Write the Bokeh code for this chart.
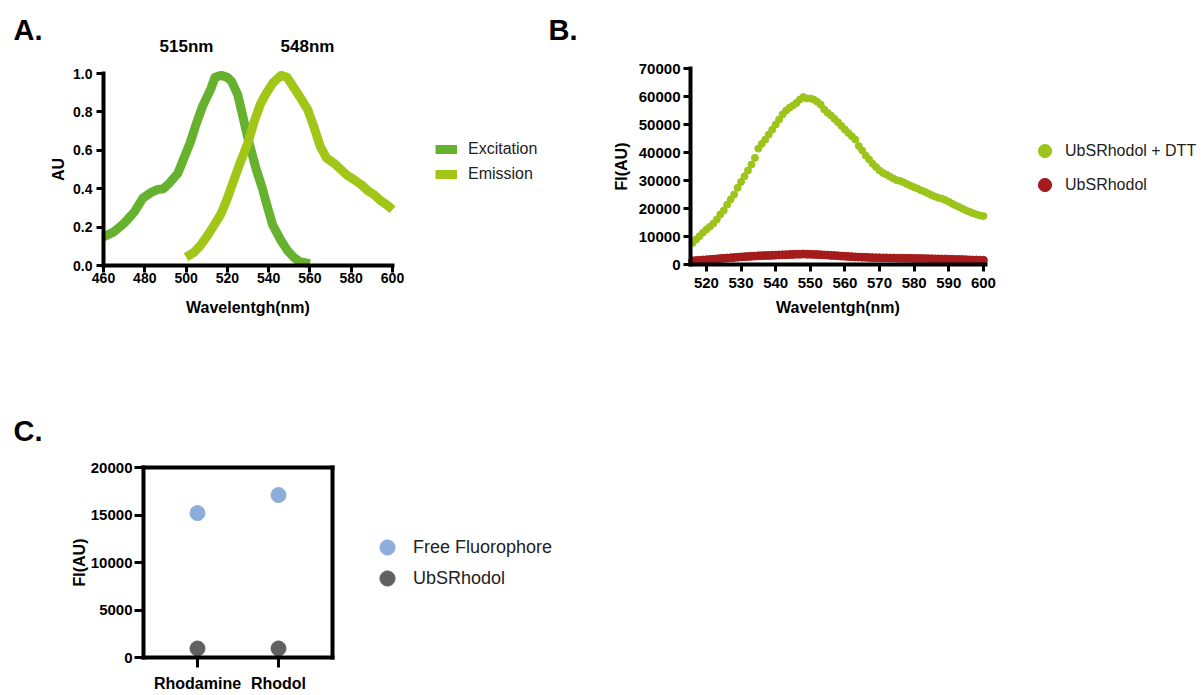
from bokeh.plotting import figure
from bokeh.layouts import column, row
from bokeh.models import Legend, LegendItem, Label, FixedTicker, Range1d, PrintfTickFormatter, LinearAxis
from bokeh.embed import file_html
from bokeh.resources import INLINE

FONT = "Liberation Sans"

# ---------------- Panel A data ----------------
exc_wl = [460, 465, 470, 475, 479, 483, 486, 489, 492, 496, 499, 502, 505, 508, 512, 514,
          517, 520, 522, 525, 527, 530, 532, 534, 537, 539, 542, 546, 549, 552, 555, 560]
exc_au = [0.149, 0.175, 0.22, 0.28, 0.35, 0.38, 0.395, 0.40, 0.43, 0.48, 0.56, 0.64, 0.74, 0.83, 0.92, 0.98,
          0.99, 0.98, 0.96, 0.89, 0.80, 0.66, 0.58, 0.50, 0.40, 0.32, 0.21, 0.13, 0.08, 0.044, 0.02, 0.01]
em_wl = [500, 504, 507, 510, 513, 517, 520, 523, 526, 530, 533, 536, 539, 542, 546, 549,
         552, 555, 559, 562, 565, 568, 572, 575, 578, 581, 585, 588, 591, 594, 598, 600]
em_au = [0.044, 0.07, 0.105, 0.15, 0.20, 0.27, 0.35, 0.44, 0.53, 0.64, 0.75, 0.84, 0.90, 0.95, 0.99, 0.98,
         0.93, 0.88, 0.81, 0.72, 0.62, 0.56, 0.53, 0.50, 0.47, 0.45, 0.42, 0.39, 0.37, 0.34, 0.31, 0.29]
a_xticks = [460, 480, 500, 520, 540, 560, 580, 600]
a_yticks = [0.0, 0.2, 0.4, 0.6, 0.8, 1.0]
a_peaks = ["515nm", "548nm"]

# ---------------- Panel B data ----------------
b_wl = list(range(516, 601))
b_dtt = [7700, 8900, 10100, 11400, 12500, 13500, 14600, 16100, 17900, 19300,
         21400, 23200, 25000, 27400, 29500, 31500, 33600, 35700, 38100, 41400,
         43100, 44600, 46400, 48200, 50000, 51800, 53600, 55000, 56000, 56800,
         57700, 58900, 59800, 59300, 59300, 58900, 58100, 57100, 55400, 54200,
         53200, 52000, 50800, 49500, 48200, 47000, 45800, 44600, 42300, 40700,
         38900, 37500, 36000, 34800, 33600, 32700, 32100, 31400, 30700, 30100,
         29800, 29300, 28700, 28100, 27600, 27100, 26500, 26000, 25400, 24800,
         24300, 23800, 23500, 23000, 22400, 21700, 21100, 20500, 19900, 19300,
         18800, 18300, 17900, 17500, 17300]
b_probe = [1300, 1400, 1500, 1600, 1700, 1800, 1900, 2000, 2100, 2200,
           2300, 2400, 2500, 2600, 2700, 2800, 2850, 2950, 3000, 3100,
           3150, 3200, 3250, 3300, 3350, 3400, 3450, 3500, 3550, 3600,
           3650, 3700, 3750, 3700, 3650, 3600, 3550, 3500, 3400, 3350,
           3250, 3200, 3100, 3000, 2950, 2850, 2800, 2700, 2650, 2600,
           2550, 2500, 2450, 2400, 2400, 2350, 2350, 2300, 2300, 2250,
           2250, 2200, 2200, 2200, 2150, 2150, 2100, 2100, 2050, 2050,
           2000, 2000, 1950, 1950, 1900, 1850, 1800, 1800, 1750, 1700,
           1650, 1600, 1600, 1550, 1500]
b_xticks = [520, 530, 540, 550, 560, 570, 580, 590, 600]
b_yticks = [0, 10000, 20000, 30000, 40000, 50000, 60000, 70000]

# ---------------- Panel C data ----------------
c_cats = ["Rhodamine", "Rhodol"]
c_free = [15200, 17100]
c_probe = [950, 950]
c_yticks = [0, 5000, 10000, 15000, 20000]

# colours
C_EXC = "#66b22f"
C_EM = "#a2c617"
C_DTT = "#9cc41b"
C_RED = "#a51c1c"
C_BLUE = "#8dadda"
C_GREY = "#616161"


class Geo:
    """Maps page pixels to data coordinates for a figure whose frame fills its canvas."""
    def __init__(self, cx, cy, cw, ch, l, r, t, b, x0, x1, y0, y1):
        self.cx, self.cy, self.cw, self.ch = cx, cy, cw, ch
        kx = (r - l) / (x1 - x0)
        ky = (b - t) / (y1 - y0)
        self.xs = x0 - (l - cx) / kx
        self.xe = x1 + (cx + cw - r) / kx
        self.ys = y0 - (cy + ch - b) / ky
        self.ye = y1 + (t - cy) / ky
        self.kx, self.ky = kx, ky

    def data(self, px, py):
        return (self.xs + (px - self.cx) / self.kx, self.ys + (self.cy + self.ch - py) / self.ky)

    def loc(self, px, py_bottom):
        return (px - self.cx, self.cy + self.ch - py_bottom)


def make_fig(g):
    p = figure(width=g.cw, height=g.ch, output_backend="svg", toolbar_location=None,
               x_range=Range1d(g.xs, g.xe), y_range=Range1d(g.ys, g.ye), min_border=0)
    p.outline_line_color = None
    p.xgrid.grid_line_color = None
    p.ygrid.grid_line_color = None
    return p


def style_axis(ax, tick_size, title_size, tick_out=7, lw=4):
    ax.axis_line_width = lw
    ax.axis_line_color = "black"
    ax.axis_line_cap = "square"
    ax.major_tick_line_width = lw - 1
    ax.major_tick_line_color = "black"
    ax.major_tick_out = tick_out
    ax.major_tick_in = 0
    ax.minor_tick_line_color = None
    ax.major_label_text_font = FONT
    ax.major_label_text_font_style = "bold"
    ax.major_label_text_font_size = tick_size
    ax.major_label_text_color = "black"
    ax.axis_label_text_font = FONT
    ax.axis_label_text_font_style = "bold"
    ax.axis_label_text_font_size = title_size
    ax.axis_label_text_color = "black"


def add_text(p, g, px, py, txt, size, bold=True, align="left"):
    x, y = g.data(px, py)
    p.add_layout(Label(x=x, y=y, text=txt, text_font=FONT, text_font_size=size,
                       text_font_style="bold" if bold else "normal", text_color="black",
                       text_align=align, text_baseline="middle"))


def make_legend(items, location, gw, gh, spacing, standoff, size):
    return Legend(items=items, location=location, glyph_width=gw, glyph_height=gh,
                  spacing=spacing, padding=0, margin=0, label_standoff=standoff,
                  label_text_font=FONT, label_text_font_size=size, label_text_color="#222222",
                  border_line_color=None, background_fill_alpha=0)


# ================= Panel A =================
gA = Geo(0, 0, 540, 336, 103, 392, 73, 265, 460, 600, 0.0, 1.0)
pA = make_fig(gA)
xa, ya = pA.xaxis[0], pA.yaxis[0]
for ax in (xa, ya):
    style_axis(ax, "14px", "16px")
xa.fixed_location = 0.0
xa.bounds = (460, 600)
ya.fixed_location = 460
ya.bounds = (0.0, 1.0)
xa.ticker = FixedTicker(ticks=a_xticks)
ya.ticker = FixedTicker(ticks=a_yticks)
ya.formatter = PrintfTickFormatter(format="%.1f")
xa.axis_label = "Wavelentgh(nm)"
ya.axis_label = "AU"
xa.major_label_standoff = 0
xa.axis_label_standoff = 13
ya.major_label_standoff = 4
ya.axis_label_standoff = 3

rE = pA.line(exc_wl, exc_au, line_width=9, line_color=C_EXC, line_join="round")
rM = pA.line(em_wl, em_au, line_width=9, line_color=C_EM, line_join="round")
pA.add_layout(make_legend([LegendItem(label="Excitation", renderers=[rE]),
                           LegendItem(label="Emission", renderers=[rM])],
                          gA.loc(435, 184), 22, 20, 5, 11, "16px"))
add_text(pA, gA, 13, 29, "A.", "29px")
add_text(pA, gA, 186, 46, a_peaks[0], "17px", align="center")
add_text(pA, gA, 307, 46, a_peaks[1], "17px", align="center")

# ================= Panel B =================
gB = Geo(540, 0, 660, 336, 690, 985, 68, 264, 515.4, 600.6, 0, 70000)
pB = make_fig(gB)
xb, yb = pB.xaxis[0], pB.yaxis[0]
for ax in (xb, yb):
    style_axis(ax, "15px", "16px")
xb.fixed_location = 0
xb.bounds = (515.4, 600.6)
yb.fixed_location = 515.4
yb.bounds = (0, 70000)
xb.ticker = FixedTicker(ticks=b_xticks)
yb.ticker = FixedTicker(ticks=b_yticks)
yb.formatter = PrintfTickFormatter(format="%d")
xb.axis_label = "Wavelentgh(nm)"
yb.axis_label = "FI(AU)"
xb.major_label_standoff = 6
xb.axis_label_standoff = 8
yb.major_label_standoff = 3
yb.axis_label_standoff = 6

rD = pB.scatter(b_wl, b_dtt, size=7, color=C_DTT)
rP = pB.scatter(b_wl, b_probe, size=8, color=C_RED)
pB.add_layout(make_legend([LegendItem(label="UbSRhodol + DTT", renderers=[rD]),
                           LegendItem(label="UbSRhodol", renderers=[rP])],
                          gB.loc(1028, 201), 33, 33, 1, 4, "16px"))
add_text(pB, gB, 548, 29, "B.", "29px")

# ================= Panel C =================
c_pos = [i + 0.5 for i in range(len(c_cats))]
c_lo, c_hi = c_pos[0] - 54 / 81, c_pos[-1] + 54 / 81
gC = Geo(0, 336, 620, 354, 143, 332, 467, 657, c_lo, c_hi, 0, 20000)
pC = make_fig(gC)
xc, yc = pC.xaxis[0], pC.yaxis[0]
for ax in (xc, yc):
    style_axis(ax, "15px", "16px", tick_out=9)
xc.major_tick_out = 10
xc.major_label_text_font_size = "16px"
xc.fixed_location = 0
xc.bounds = (c_lo, c_hi)
yc.fixed_location = c_lo
yc.bounds = (0, 20000)
xc.ticker = FixedTicker(ticks=c_pos)
xc.major_label_overrides = {pos: name for pos, name in zip(c_pos, c_cats)}
yc.ticker = FixedTicker(ticks=c_yticks)
yc.formatter = PrintfTickFormatter(format="%d")
yc.axis_label = "FI(AU)"
xc.major_label_standoff = 7
yc.major_label_standoff = 2
yc.axis_label_standoff = 0

top_ax = LinearAxis(fixed_location=20000, bounds=(c_lo, c_hi), ticker=FixedTicker(ticks=[]))
right_ax = LinearAxis(fixed_location=c_hi, bounds=(0, 20000), ticker=FixedTicker(ticks=[]))
for ax in (top_ax, right_ax):
    style_axis(ax, "1px", "1px")
    ax.major_tick_line_color = None
pC.add_layout(top_ax, "above")
pC.add_layout(right_ax, "right")

rF = pC.scatter(c_pos, c_free, size=15, color=C_BLUE)
rU = pC.scatter(c_pos, c_probe, size=15, color=C_GREY)
pC.add_layout(make_legend([LegendItem(label="Free Fluorophore", renderers=[rF])],
                          gC.loc(368, 566), 38, 38, 0, 7, "18px"))
pC.add_layout(make_legend([LegendItem(label="UbSRhodol", renderers=[rU])],
                          gC.loc(368, 597), 38, 38, 0, 7, "18px"))
add_text(pC, gC, 13, 430, "C.", "29px")

layout = column(row(pA, pB), pC)
open("out.html", "w").write(file_html(layout, INLINE))
